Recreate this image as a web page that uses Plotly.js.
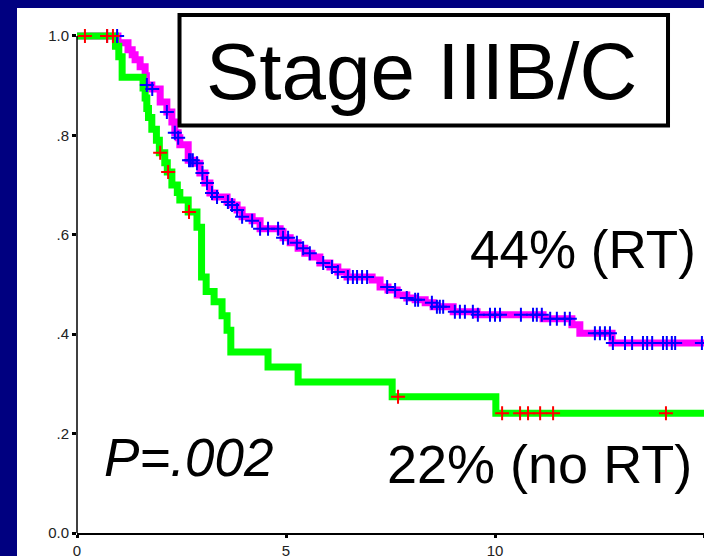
<!DOCTYPE html>
<html>
<head>
<meta charset="utf-8">
<script src="https://cdn.plot.ly/plotly-3.0.1.min.js"></script>
<style>
  html, body { margin: 0; padding: 0; width: 704px; height: 556px; overflow: hidden; background: #000080; }
  #plot { position: absolute; left: 17px; top: 8px; width: 687px; height: 548px; }
</style>
</head>
<body>
<div id="plot"></div>
<script>
// Kaplan-Meier steps: time (years) and survival after step
const rtTimes = [0, 0.98, 1.22, 1.32, 1.39, 1.51, 1.63, 1.66, 1.79, 1.99, 2.15, 2.27, 2.34, 2.42, 2.46, 2.66, 2.82, 2.94, 3.06, 3.18, 3.30, 3.59, 3.71, 3.83, 3.95, 4.19, 4.38, 4.86, 4.93, 5.10, 5.29, 5.45, 5.62, 5.81, 6.05, 6.24, 6.46, 7.06, 7.25, 7.44, 7.66, 7.89, 8.09, 8.33, 8.52, 9.00, 9.57, 11.15, 11.84, 12.03, 12.80, 15];
const rtSurv  = [1.0, 0.986, 0.972, 0.962, 0.952, 0.938, 0.92, 0.901, 0.893, 0.867, 0.847, 0.827, 0.805, 0.795, 0.781, 0.750, 0.744, 0.724, 0.704, 0.684, 0.676, 0.666, 0.660, 0.650, 0.636, 0.628, 0.612, 0.606, 0.594, 0.584, 0.573, 0.563, 0.555, 0.543, 0.535, 0.525, 0.515, 0.509, 0.495, 0.489, 0.479, 0.473, 0.469, 0.463, 0.455, 0.445, 0.439, 0.431, 0.419, 0.402, 0.382, 0.382];
const rtCensored = [0.72, 0.96, 1.67, 1.80, 2.15, 2.34, 2.42, 2.68, 2.72, 2.77, 2.87, 3.0, 3.11, 3.23, 3.35, 3.61, 3.71, 3.83, 3.95, 4.19, 4.38, 4.57, 4.81, 4.93, 5.05, 5.26, 5.41, 5.57, 5.89, 6.10, 6.24, 6.48, 6.60, 6.70, 6.82, 6.94, 7.42, 7.61, 7.89, 8.09, 8.16, 8.49, 8.61, 8.68, 8.76, 9.04, 9.16, 9.28, 9.47, 9.59, 9.88, 10.0, 10.12, 10.62, 10.91, 11.0, 11.12, 11.32, 11.48, 11.67, 11.79, 12.39, 12.51, 12.63, 12.75, 12.82, 13.11, 13.28, 13.54, 13.64, 13.76, 14.02, 14.11, 14.23, 14.31, 14.95];

const noRtTimes = [0, 0.92, 1.00, 1.08, 1.58, 1.63, 1.67, 1.71, 1.79, 1.90, 1.97, 2.10, 2.16, 2.27, 2.40, 2.46, 2.66, 2.87, 2.98, 3.09, 3.28, 3.47, 3.59, 3.68, 4.57, 5.29, 7.54, 10.02, 15];
const noRtSurv  = [1.0, 0.979, 0.958, 0.917, 0.895, 0.875, 0.854, 0.836, 0.812, 0.79, 0.765, 0.745, 0.726, 0.70, 0.685, 0.67, 0.646, 0.615, 0.515, 0.486, 0.465, 0.437, 0.408, 0.364, 0.334, 0.304, 0.274, 0.241, 0.241];
const noRtCensored = [0.19, 0.72, 0.86, 1.99, 2.18, 2.68, 7.68, 10.17, 10.6, 10.79, 11.08, 11.39, 14.09];

const yTickVals = [0, 0.2, 0.4, 0.6, 0.8, 1.0];
const yTickText = ["0.0", ".2", ".4", ".6", ".8", "1.0"];
const xTickVals = [0, 5, 10, 15];
const xTickText = ["0", "5", "10", "15"];

function survAt(times, surv, t) {
  let s = surv[0];
  for (let i = 0; i < times.length; i++) { if (times[i] <= t) s = surv[i]; else break; }
  return s;
}

const FONT = "Liberation Sans, Arial, Helvetica, sans-serif";

const traces = [
  { x: rtTimes, y: rtSurv, mode: "lines", line: { shape: "hv", color: "#ff00ff", width: 7 }, hoverinfo: "skip" },
  { x: noRtTimes, y: noRtSurv, mode: "lines", line: { shape: "hv", color: "#00ff00", width: 7 }, hoverinfo: "skip" },
  { x: rtCensored, y: rtCensored.map(t => survAt(rtTimes, rtSurv, t)), mode: "markers", cliponaxis: false,
    marker: { symbol: "cross-thin", size: 10, color: "#0000ff", line: { color: "#0000ff", width: 2 } }, hoverinfo: "skip" },
  { x: noRtCensored, y: noRtCensored.map(t => survAt(noRtTimes, noRtSurv, t)), mode: "markers", cliponaxis: false,
    marker: { symbol: "cross-thin", size: 10, color: "#ff0000", line: { color: "#ff0000", width: 2 } }, hoverinfo: "skip" }
];

const layout = {
  width: 687, height: 548,
  margin: { l: 60, r: 0, t: 13, b: 23, pad: 0 },
  paper_bgcolor: "#ffffff", plot_bgcolor: "#ffffff",
  showlegend: false,
  font: { family: FONT, color: "#222222", size: 15 },
  xaxis: {
    range: [0, 15], showgrid: false, zeroline: false,
    showline: true, linecolor: "#000000", linewidth: 2,
    ticks: "outside", ticklen: 3, tickwidth: 3, tickcolor: "#000000",
    tickvals: xTickVals, ticktext: xTickText, tickfont: { family: FONT, size: 15, color: "#222222" }
  },
  yaxis: {
    range: [0, 1.03], showgrid: false, zeroline: false, showline: false,
    ticks: "outside", ticklen: 4, tickwidth: 3, tickcolor: "#000000",
    tickvals: yTickVals, ticktext: yTickText, tickfont: { family: FONT, size: 15, color: "#222222" }
  },
  shapes: [
    { type: "line", xref: "paper", yref: "y", x0: 0, x1: 0, y0: 0, y1: 1.0, line: { color: "#000000", width: 1.5 } },
    { type: "rect", xref: "paper", yref: "paper", x0: 0.1635, x1: 0.9426, y0: 0.7959, y1: 1.0117,
      line: { color: "#000000", width: 4 }, fillcolor: "#ffffff", layer: "above" }
  ],
  annotations: [
    { xref: "paper", yref: "paper", x: 0.550, y: 0.9014, xanchor: "center", yanchor: "middle", showarrow: false,
      text: "Stage IIIB/C", font: { family: FONT, size: 80, color: "#000000" } },
    { xref: "paper", yref: "paper", x: 0.8070, y: 0.5537, xanchor: "center", yanchor: "middle", showarrow: false,
      text: "44% (RT)", font: { family: FONT, size: 53, color: "#000000" } },
    { xref: "paper", yref: "paper", x: 0.7384, y: 0.1338, xanchor: "center", yanchor: "middle", showarrow: false,
      text: "22% (no RT)", font: { family: FONT, size: 54, color: "#000000" } },
    { xref: "paper", yref: "paper", x: 0.1778, y: 0.1475, xanchor: "center", yanchor: "middle", showarrow: false,
      text: "<i>P=.002</i>", font: { family: FONT, size: 53, color: "#000000" } }
  ]
};

Plotly.newPlot("plot", traces, layout, { displayModeBar: false, staticPlot: true });
</script>
</body>
</html>
